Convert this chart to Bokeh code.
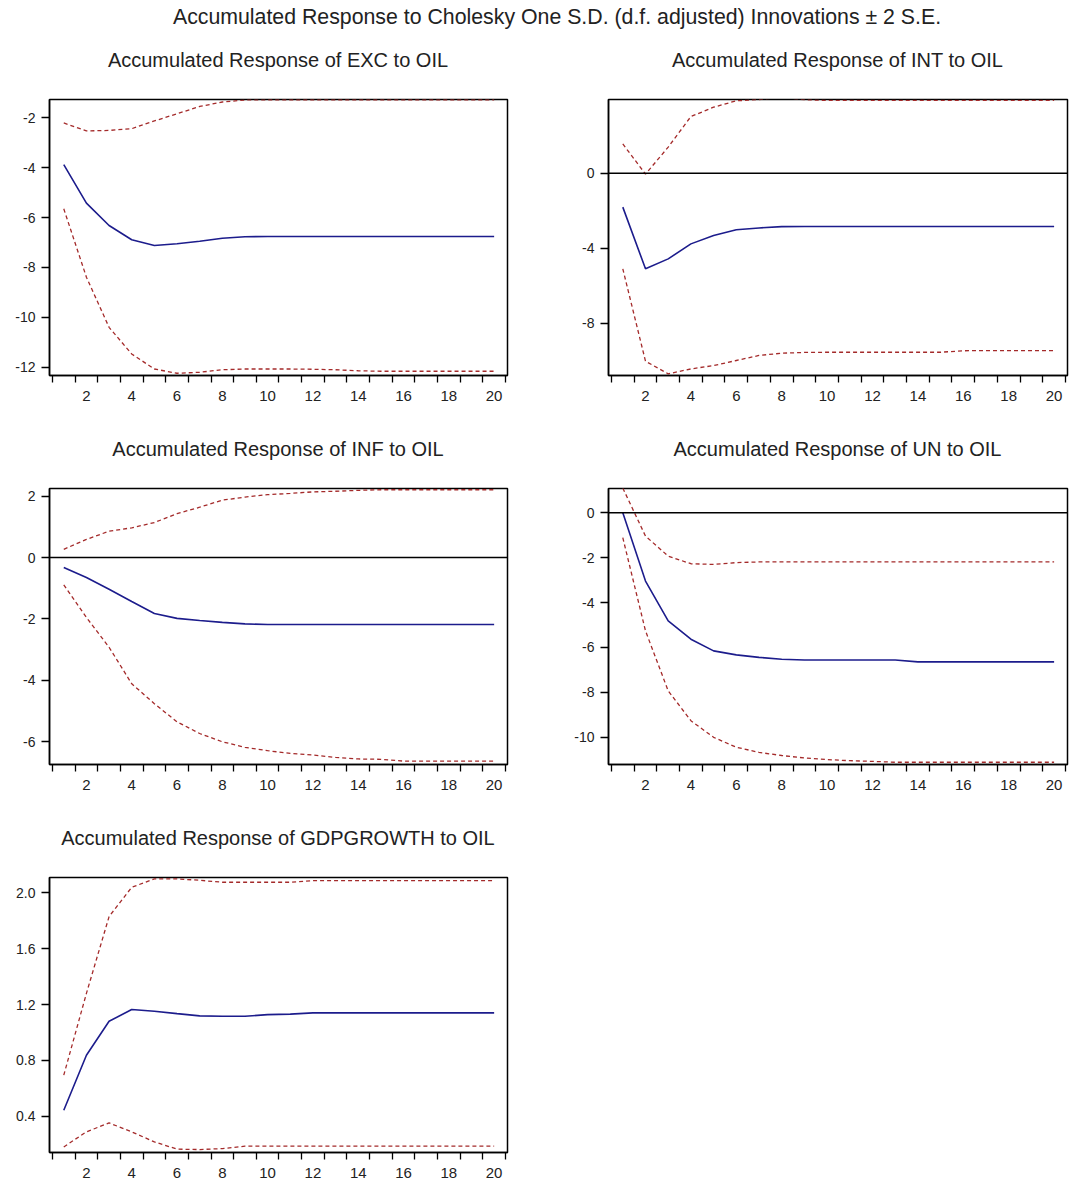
from bokeh.plotting import figure
from bokeh.layouts import column, row
from bokeh.models import Range1d, FixedTicker, Span, Div, NumeralTickFormatter
from bokeh.embed import file_html
from bokeh.resources import INLINE

# ---------------- data ----------------
periods = [1, 2, 3, 4, 5, 6, 7, 8, 9, 10, 11, 12, 13, 14, 15, 16, 17, 18, 19, 20]
x_tick_labels = [2, 4, 6, 8, 10, 12, 14, 16, 18, 20]

exc_resp = [-3.88, -5.42, -6.32, -6.89, -7.12, -7.05, -6.95, -6.83, -6.77, -6.76,
            -6.76, -6.76, -6.76, -6.76, -6.76, -6.76, -6.76, -6.76, -6.76, -6.76]
exc_upper = [-2.21, -2.53, -2.51, -2.44, -2.13, -1.84, -1.55, -1.37, -1.29, -1.28,
             -1.28, -1.28, -1.28, -1.28, -1.28, -1.28, -1.28, -1.28, -1.28, -1.28]
exc_lower = [-5.65, -8.39, -10.40, -11.47, -12.07, -12.24, -12.20, -12.10, -12.07, -12.07,
             -12.07, -12.08, -12.10, -12.14, -12.16, -12.16, -12.16, -12.16, -12.16, -12.16]
exc_yticks = [-12, -10, -8, -6, -4, -2]

int_resp = [-1.81, -5.10, -4.57, -3.77, -3.32, -3.02, -2.92, -2.85, -2.84, -2.84,
            -2.84, -2.84, -2.84, -2.84, -2.84, -2.84, -2.84, -2.84, -2.84, -2.84]
int_upper = [1.56, -0.05, 1.39, 3.02, 3.52, 3.86, 3.93, 4.05, 3.92, 3.88,
             3.88, 3.88, 3.88, 3.88, 3.88, 3.88, 3.88, 3.88, 3.88, 3.88]
int_lower = [-5.10, -10.03, -10.70, -10.44, -10.26, -9.99, -9.72, -9.60, -9.56, -9.55,
             -9.55, -9.55, -9.55, -9.55, -9.55, -9.47, -9.46, -9.46, -9.46, -9.46]
int_yticks = [-8, -4, 0]

inf_resp = [-0.32, -0.65, -1.03, -1.43, -1.82, -1.98, -2.05, -2.11, -2.16, -2.18,
            -2.18, -2.18, -2.18, -2.18, -2.18, -2.18, -2.18, -2.18, -2.18, -2.18]
inf_upper = [0.27, 0.59, 0.86, 0.97, 1.14, 1.43, 1.64, 1.87, 1.97, 2.05,
             2.09, 2.14, 2.16, 2.19, 2.21, 2.21, 2.21, 2.21, 2.21, 2.21]
inf_lower = [-0.89, -1.95, -2.92, -4.11, -4.76, -5.35, -5.73, -6.00, -6.18, -6.29,
             -6.38, -6.43, -6.51, -6.56, -6.57, -6.63, -6.63, -6.63, -6.63, -6.63]
inf_yticks = [-6, -4, -2, 0, 2]

un_resp = [0.00, -3.04, -4.81, -5.63, -6.15, -6.33, -6.44, -6.52, -6.56, -6.56,
           -6.56, -6.56, -6.56, -6.64, -6.64, -6.64, -6.64, -6.64, -6.64, -6.64]
un_upper = [1.10, -1.04, -1.93, -2.27, -2.30, -2.22, -2.19, -2.19, -2.19, -2.19,
            -2.19, -2.19, -2.19, -2.19, -2.19, -2.19, -2.19, -2.19, -2.19, -2.19]
un_lower = [-1.11, -5.26, -7.93, -9.26, -10.00, -10.44, -10.67, -10.81, -10.92, -10.99,
            -11.04, -11.07, -11.11, -11.11, -11.11, -11.11, -11.11, -11.11, -11.11, -11.11]
un_yticks = [-10, -8, -6, -4, -2, 0]

gdp_resp = [0.443, 0.837, 1.080, 1.164, 1.152, 1.135, 1.119, 1.116, 1.116, 1.128,
            1.131, 1.140, 1.140, 1.140, 1.140, 1.140, 1.140, 1.140, 1.140, 1.140]
gdp_upper = [0.694, 1.280, 1.830, 2.040, 2.100, 2.100, 2.090, 2.076, 2.076, 2.076,
             2.076, 2.088, 2.088, 2.088, 2.088, 2.088, 2.088, 2.088, 2.088, 2.088]
gdp_lower = [0.180, 0.288, 0.352, 0.288, 0.216, 0.164, 0.161, 0.168, 0.185, 0.185,
             0.185, 0.185, 0.185, 0.185, 0.185, 0.185, 0.185, 0.185, 0.185, 0.185]
gdp_yticks = [0.4, 0.8, 1.2, 1.6, 2.0]

main_title = "Accumulated Response to Cholesky One S.D. (d.f. adjusted) Innovations \u00b1 2 S.E."
panel_titles = ["Accumulated Response of EXC to OIL",
                "Accumulated Response of INT to OIL",
                "Accumulated Response of INF to OIL",
                "Accumulated Response of UN to OIL",
                "Accumulated Response of GDPGROWTH to OIL"]

# ---------------- styling ----------------
FONT = "Liberation Sans"
TXT = "#222222"
BLUE = "#1c1c8c"
RED = "#a42a2a"
TOP = 15
COL_W = 536
SUB_H = 48


def panel(resp, upper, lower, y0, y1, yticks, zero, left, frame_w, right,
          height, bottom, fmt=None):
    p = figure(width=left + frame_w + right, height=height,
               x_range=Range1d(0.37, 20.59), y_range=Range1d(y0, y1),
               output_backend="svg", toolbar_location=None,
               min_border_left=left, min_border_right=right,
               min_border_top=TOP, min_border_bottom=bottom)
    p.xgrid.visible = False
    p.ygrid.visible = False
    p.outline_line_color = "black"
    p.outline_line_width = 1.5
    p.outline_line_alpha = 1.0
    p.background_fill_color = "white"
    p.border_fill_color = "white"

    xa = p.xaxis[0]
    xa.ticker = FixedTicker(ticks=x_tick_labels,
                            minor_ticks=[k + 0.5 for k in range(21)])
    xa.major_tick_out = 0
    xa.major_tick_in = 0
    xa.minor_tick_out = 7
    xa.minor_tick_in = 0
    xa.minor_tick_line_color = "black"
    xa.minor_tick_line_width = 1.3
    xa.axis_line_color = "black"
    xa.axis_line_width = 1.5
    xa.major_label_standoff = 8
    xa.major_label_text_font = FONT
    xa.major_label_text_font_size = "15px"
    xa.major_label_text_color = TXT

    ya = p.yaxis[0]
    ya.ticker = FixedTicker(ticks=yticks, minor_ticks=[])
    ya.major_tick_out = 8
    ya.major_tick_in = 0
    ya.major_tick_line_color = "black"
    ya.major_tick_line_width = 1.3
    ya.minor_tick_out = 0
    ya.minor_tick_in = 0
    ya.axis_line_color = "black"
    ya.axis_line_width = 1.5
    ya.major_label_standoff = 6
    ya.major_label_text_font = FONT
    ya.major_label_text_font_size = "14px"
    ya.major_label_text_color = TXT
    if fmt is not None:
        ya.formatter = NumeralTickFormatter(format=fmt)
    else:
        ya.major_label_overrides = {t: str(t) for t in yticks}

    if zero:
        p.add_layout(Span(location=0, dimension="width", line_color="black",
                          line_width=1.5))

    p.line(periods, upper, line_color=RED, line_width=1.3, line_dash="4 3")
    p.line(periods, lower, line_color=RED, line_width=1.3, line_dash="4 3")
    p.line(periods, resp, line_color=BLUE, line_width=1.6)
    return p


def subtitle(text, shift_left, inner_w):
    return Div(
        text=('<div style="display:block; margin-left:%dpx; width:%dpx; text-align:center;'
              ' font-family:\'Liberation Sans\'; font-size:20px; line-height:%dpx;'
              ' color:#222222; white-space:nowrap;">%s</div>'
              % (shift_left, inner_w, SUB_H, text)),
        width=COL_W, height=SUB_H, margin=(0, 0, 0, 0))


# column 1: frame 49..507 ; column 2: frame 608..1067
L1, W1, R1 = 49, 458, 29
L2, W2, R2 = 72, 459, 5

p1 = panel(exc_resp, exc_upper, exc_lower, -12.33, -1.27, exc_yticks, False,
           L1, W1, R1, 341, 50)
p2 = panel(int_resp, int_upper, int_lower, -10.79, 3.93, int_yticks, True,
           L2, W2, R2, 341, 50)
p3 = panel(inf_resp, inf_upper, inf_lower, -6.74, 2.25, inf_yticks, True,
           L1, W1, R1, 341, 50)
p4 = panel(un_resp, un_upper, un_lower, -11.21, 1.08, un_yticks, True,
           L2, W2, R2, 341, 50)
p5 = panel(gdp_resp, gdp_upper, gdp_lower, 0.14, 2.11, gdp_yticks, False,
           L1, W1, R1, 325, 35, fmt="0.0")

s1 = subtitle(panel_titles[0], 20, 516)
s2 = subtitle(panel_titles[1], 67, 469)
s3 = subtitle(panel_titles[2], 20, 516)
s4 = subtitle(panel_titles[3], 67, 469)
s5 = subtitle(panel_titles[4], 20, 516)

title_div = Div(
    text=('<div style="display:block; width:1030px; margin-left:42px; text-align:center;'
          ' font-family:\'Liberation Sans\'; font-size:21.3px; line-height:34px;'
          ' color:#222222; white-space:nowrap;">' + main_title + '</div>'),
    width=1072, height=36, margin=(0, 0, 0, 0))

layout = column(title_div,
                row(s1, s2), row(p1, p2),
                row(s3, s4), row(p3, p4),
                row(s5), row(p5))

open("out.html", "w").write(file_html(layout, INLINE))
